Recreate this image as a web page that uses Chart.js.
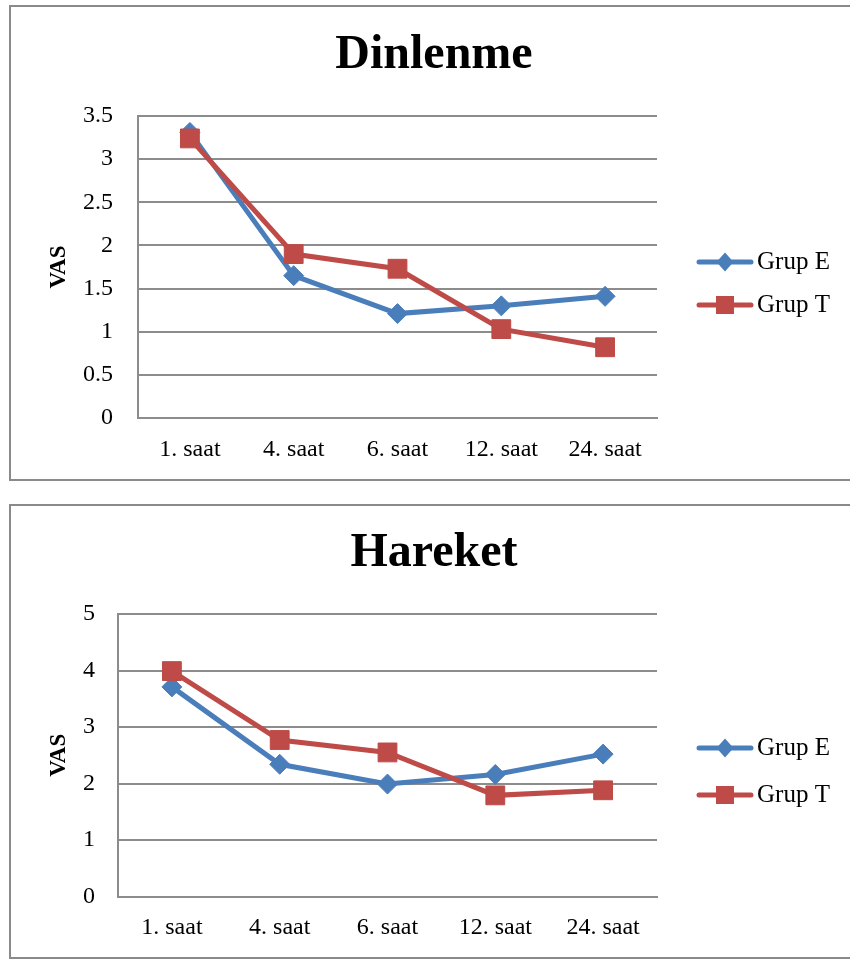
<!DOCTYPE html>
<html>
<head>
<meta charset="utf-8">
<script src="https://cdn.jsdelivr.net/npm/chart.js@4/dist/chart.umd.min.js"></script>
<style>
  html, body { margin: 0; padding: 0; overflow: hidden; background: #fff; width: 850px; height: 959px; }
  .box { position: absolute; border: 2px solid #8a8a8a; box-sizing: border-box; }
  canvas { position: absolute; left: 0; }
</style>
</head>
<body>
<div class="box" style="left:9px;top:5px;width:850px;height:476px"></div>
<div class="box" style="left:9px;top:504px;width:850px;height:455px"></div>
<canvas id="c1" width="868" height="481" style="top:0px;width:868px;height:481px"></canvas>
<canvas id="c2" width="868" height="477" style="top:482px;width:868px;height:477px"></canvas>
<script>
// saatler
var labels = ['1. saat', '4. saat', '6. saat', '12. saat', '24. saat'];

// Dinlenme (istirahat) VAS
var dinlenmeE = [3.31, 1.65, 1.21, 1.30, 1.41];
var dinlenmeT = [3.24, 1.90, 1.73, 1.03, 0.82];

// Hareket VAS
var hareketE = [3.71, 2.34, 1.99, 2.16, 2.52];
var hareketT = [3.99, 2.77, 2.55, 1.79, 1.88];

// y ekseni
var dinlenmeMax = 3.5, dinlenmeStep = 0.5;
var hareketMax = 5, hareketStep = 1;

var serif = '"Liberation Serif", "Times New Roman", serif';
var blue = '#4a7ebb';
var red = '#be4b48';
var gridGrey = '#8c8c8c';

// Excel tarzi lejant: cizgi + isaret + yazi
var sideLegend = {
  id: 'sideLegend',
  afterDraw: function (chart, args, opts) {
    var ctx = chart.ctx;
    chart.data.datasets.forEach(function (ds, i) {
      var y = opts.ys[i];
      var cx = opts.x + 28;
      ctx.save();
      ctx.strokeStyle = ds.borderColor;
      ctx.lineWidth = ds.borderWidth;
      ctx.lineCap = 'round';
      ctx.beginPath();
      ctx.moveTo(opts.x + 2, y);
      ctx.lineTo(opts.x + 54, y);
      ctx.stroke();
      ctx.fillStyle = ds.backgroundColor;
      ctx.beginPath();
      if (ds.pointStyle === 'rectRot') {
        ctx.moveTo(cx - 8.5, y);
        ctx.lineTo(cx, y - 9.5);
        ctx.lineTo(cx + 8.5, y);
        ctx.lineTo(cx, y + 9.5);
      } else {
        ctx.rect(cx - 9, y - 9, 18, 18);
      }
      ctx.closePath();
      ctx.fill();
      ctx.fillStyle = '#000';
      ctx.font = '25px ' + serif;
      ctx.textBaseline = 'middle';
      ctx.fillText(ds.label, opts.x + 60, y);
      ctx.restore();
    });
  }
};

function createChart(id, title, dataE, dataT, yMax, yStep, geo) {
  var ctx = document.getElementById(id).getContext('2d');
  return new Chart(ctx, {
    type: 'line',
    data: {
      labels: labels,
      datasets: [{
        label: 'Grup E',
        data: dataE,
        borderColor: blue,
        backgroundColor: blue,
        borderWidth: 5,
        pointStyle: 'rectRot',
        pointRadius: 10,
        pointBorderWidth: 1,
        tension: 0,
        order: 1
      }, {
        label: 'Grup T',
        data: dataT,
        borderColor: red,
        backgroundColor: red,
        borderWidth: 5,
        pointStyle: 'rect',
        pointRadius: 13.3,
        pointBorderWidth: 1,
        tension: 0,
        order: 0
      }]
    },
    options: {
      responsive: false,
      animation: false,
      layout: { padding: 0 },
      plugins: {
        legend: { display: false },
        tooltip: { enabled: false },
        title: {
          display: true,
          text: title,
          color: '#000',
          font: { family: serif, size: 48, weight: 'bold', lineHeight: 1.2 },
          padding: { top: geo.titleTop, bottom: geo.titleBottom }
        },
        sideLegend: { x: 697, ys: geo.legendY }
      },
      scales: {
        x: {
          offset: true,
          grid: { display: false, drawTicks: false },
          border: { display: true, color: gridGrey, width: 2 },
          ticks: { padding: 17, color: '#000', font: { family: serif, size: 24 }, maxRotation: 0, autoSkip: false },
          afterFit: function (s) { s.height = geo.xH; }
        },
        y: {
          min: 0,
          max: yMax,
          ticks: {
            stepSize: yStep,
            padding: geo.yPad,
            color: '#000',
            font: { family: serif, size: 24 },
            callback: function (v) { return String(v); }
          },
          grid: { color: gridGrey, lineWidth: 2, drawTicks: false },
          border: { display: true, color: gridGrey, width: 2 },
          title: { display: true, text: 'VAS', color: '#000', font: { family: serif, size: 23, weight: 'bold' }, padding: { top: 45, bottom: 0 } },
          afterFit: function (s) { s.width = geo.yW; }
        },
        // lejant icin sag tarafta bos yer
        legendSpace: {
          type: 'linear',
          position: 'right',
          grid: { display: false, drawTicks: false },
          border: { display: false },
          ticks: { display: false },
          afterFit: function (s) { s.width = 868 - 657; }
        }
      }
    },
    plugins: [sideLegend]
  });
}

createChart('c1', 'Dinlenme', dinlenmeE, dinlenmeT, dinlenmeMax, dinlenmeStep,
  { titleTop: 27, titleBottom: 31.4, xH: 481 - 418, yW: 138, yPad: 25, legendY: [262, 305] });

createChart('c2', 'Hareket', hareketE, hareketT, hareketMax, hareketStep,
  { titleTop: 43, titleBottom: 31.4, xH: 477 - 414.5, yW: 118, yPad: 23, legendY: [266, 313] });
</script>
</body>
</html>
